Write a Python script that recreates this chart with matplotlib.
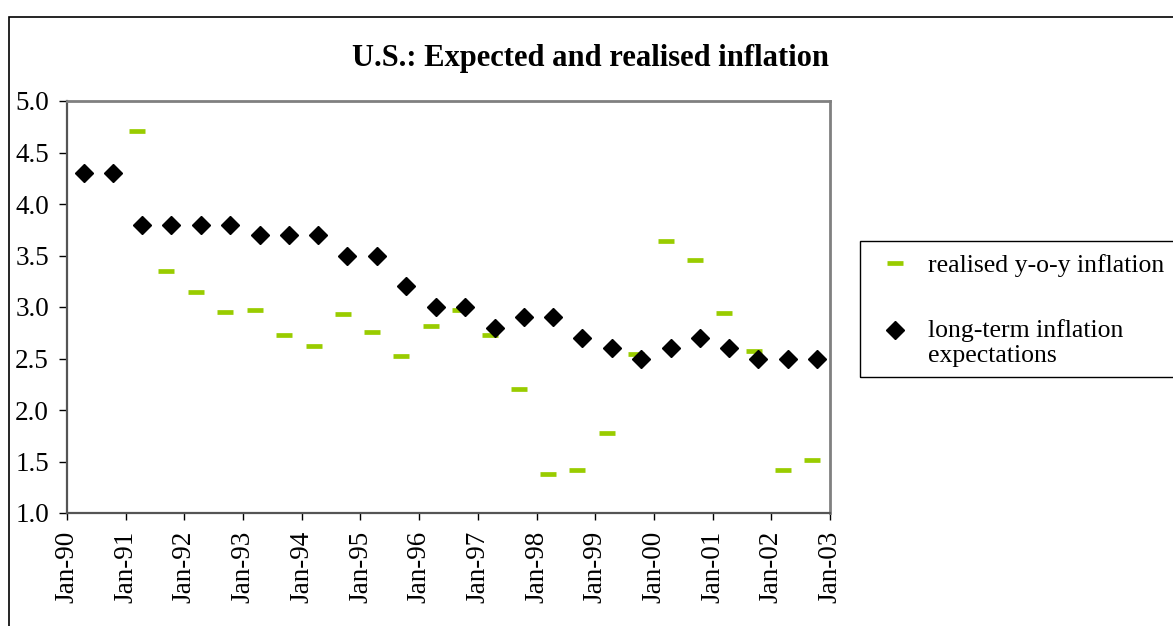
import datetime as dt
import matplotlib
matplotlib.use("Agg")
import matplotlib.pyplot as plt
import matplotlib.dates as mdates
from matplotlib.lines import Line2D
from matplotlib.patches import Rectangle

plt.rcParams['font.family'] = ['Liberation Serif', 'DejaVu Serif']

# ---- data -------------------------------------------------------------
# long-term inflation expectations, half-yearly from spring 1990
expect_dates = []
for yr in range(1990, 2003):
    expect_dates.append(dt.date(yr, 4, 15))
    expect_dates.append(dt.date(yr, 10, 12))
expect_vals = [4.3, 4.3, 3.8, 3.8, 3.8, 3.8, 3.7, 3.7, 3.7, 3.5,
               3.5, 3.2, 3.0, 3.0, 2.8, 2.9, 2.9, 2.7, 2.6, 2.5,
               2.6, 2.7, 2.6, 2.5, 2.5, 2.5]

# realised y-o-y inflation, half-yearly from spring 1991
real_dates = []
for yr in range(1991, 2003):
    real_dates.append(dt.date(yr, 3, 15))
    real_dates.append(dt.date(yr, 9, 12))
real_vals = [4.71, 3.35, 3.15, 2.95, 2.97, 2.73, 2.62, 2.93, 2.76, 2.52,
             2.82, 2.97, 2.73, 2.20, 1.38, 1.42, 1.78, 2.54, 3.64, 3.46,
             2.94, 2.57, 1.42, 1.51]

real_label = 'realised y-o-y inflation'
expect_label = ['long-term inflation', 'expectations']

GREEN = '#99CC00'
W, H = 1173, 626


def fx(px):
    return px / W


def fy(py):
    return 1 - py / H


# ---- figure -----------------------------------------------------------
fig = plt.figure(figsize=(W / 100, H / 100), dpi=100)
ax = fig.add_axes([fx(67), fy(513), fx(830) - fx(67), fy(101) - fy(513)])

# outer chart frame (Excel chart area)
fig.patches.append(Rectangle((fx(9), -0.05), 1.1, fy(17) + 0.05,
                             transform=fig.transFigure, fill=False,
                             edgecolor='black', linewidth=1.2))

ax.plot(real_dates, real_vals, linestyle='none', marker='_',
        markersize=11.5, markeredgewidth=3.4, color=GREEN)
ax.plot(expect_dates, expect_vals, linestyle='none', marker='D',
        markersize=9.5, color='black')

ax.set_xlim(dt.date(1990, 1, 1), dt.date(2003, 1, 1))
ax.set_ylim(1.0, 5.0)
ax.set_yticks([1.0, 1.5, 2.0, 2.5, 3.0, 3.5, 4.0, 4.5, 5.0])
ax.yaxis.set_major_formatter(plt.FormatStrFormatter('%.1f'))
ax.xaxis.set_major_locator(mdates.YearLocator())
ax.xaxis.set_major_formatter(mdates.DateFormatter('Jan-%y'))
ax.tick_params(axis='x', labelrotation=90, labelsize=19.5, length=5,
               width=1, direction='out', pad=8)
ax.tick_params(axis='y', labelsize=19.5, length=6, width=1,
               direction='out', pad=7)

for side in ['top', 'right']:
    ax.spines[side].set_color('#808080')
    ax.spines[side].set_linewidth(2)
for side in ['left', 'bottom']:
    ax.spines[side].set_color('#555555')
    ax.spines[side].set_linewidth(1.6)

fig.text(fx(590), fy(66), 'U.S.: Expected and realised inflation',
         ha='center', va='baseline', fontsize=22, fontweight='bold')

# ---- legend box (drawn by hand, marker sits on first label line) -------
fig.patches.append(Rectangle((fx(860), fy(377)), 0.5, fy(241) - fy(377),
                             transform=fig.transFigure, fill=False,
                             edgecolor='black', linewidth=1))
fig.lines.append(Line2D([fx(895)], [fy(263)], transform=fig.transFigure,
                        linestyle='none', marker='_', markersize=11.5,
                        markeredgewidth=3.4, color=GREEN))
fig.lines.append(Line2D([fx(895)], [fy(330)], transform=fig.transFigure,
                        linestyle='none', marker='D', markersize=9.5,
                        color='black'))
fig.text(fx(928), fy(272), real_label, fontsize=18.5, va='baseline')
fig.text(fx(928), fy(337), expect_label[0], fontsize=18.5, va='baseline')
fig.text(fx(928), fy(362), expect_label[1], fontsize=18.5, va='baseline')

fig.savefig('out.png', dpi=100)
